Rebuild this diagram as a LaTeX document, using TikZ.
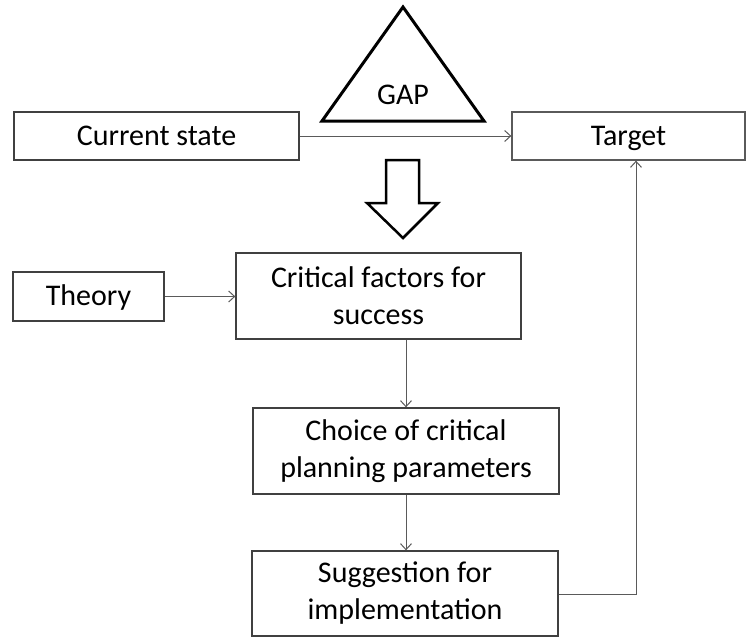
\documentclass[tikz,border=0pt]{standalone}
\usepackage{fontspec}
\setmainfont{Carlito}
\usetikzlibrary{arrows.meta}
\definecolor{boxline}{RGB}{64,64,64}
\definecolor{linkline}{RGB}{90,90,90}
\begin{document}
\begin{tikzpicture}[x=1pt,y=-1pt,
  box/.style={draw=boxline,line width=1.3pt,fill=white,inner sep=0pt,
    align=center,font=\fontsize{30}{37}\selectfont},
  oneline/.style={text height=24pt,text depth=6pt},
  link/.style={draw=linkline,line width=1pt,
    -{Straight Barb[length=6pt,width=11pt,line width=1pt]}}]
\useasboundingbox (0,0) rectangle (747,637);

% boxes
\node[box,oneline,minimum width=285pt,minimum height=48pt] (cur) at (156.5,136) {Current state};
\node[box,oneline,draw=linkline,minimum width=233pt,minimum height=48pt] (tgt) at (628.5,136) {Target};
\node[box,oneline,minimum width=151pt,minimum height=49pt] (theory) at (88.5,296.5) {Theory};
\node[box,minimum width=285pt,minimum height=86pt] (crit) at (378.5,296) {Critical factors for\\success};
\node[box,minimum width=306pt,minimum height=86pt] (choice) at (406,451) {Choice of critical\\planning parameters};
\node[box,minimum width=306pt,minimum height=85pt] (sugg) at (405,593.5) {Suggestion for\\implementation};

% gap triangle
\draw[line width=3pt,line join=miter] (403,7) -- (484,121) -- (322,121) -- cycle;
\node[font=\fontsize{30}{37}\selectfont] (gap) at (403,95) {GAP};

% block arrow
\draw[line width=2.5pt,fill=white,line join=miter]
  (386,160) -- (419,160) -- (419,203) -- (438,203) -- (403,238)
  -- (367,203) -- (386,203) -- cycle;

% connectors
\draw[link] (cur.east) -- (tgt.west);
\draw[link] (theory.east) -- (crit.west |- theory.east);
\draw[link] (choice.north |- crit.south) -- (choice.north);
\draw[link] (choice.south) -- (choice.south |- sugg.north);
\coordinate (fb) at (636,594);
\draw[link] (sugg.east |- fb) -- (fb) -- (fb |- tgt.south);
\end{tikzpicture}
\end{document}
